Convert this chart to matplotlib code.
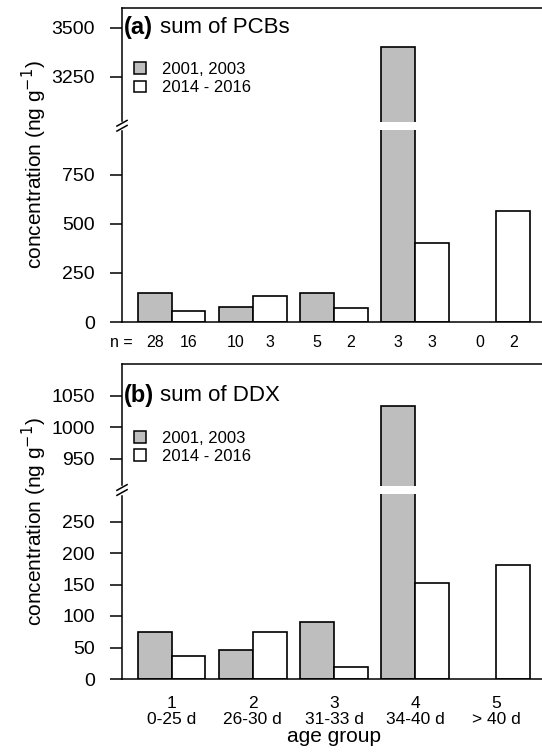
import matplotlib
matplotlib.use("Agg")
import matplotlib.pyplot as plt
from matplotlib.patches import Patch
from matplotlib.transforms import blended_transform_factory
import numpy as np

plt.rcParams["font.family"] = ["Liberation Sans", "DejaVu Sans"]

# ── data ─────────────────────────────────────────────────────────────────────
GROUPS      = ["1\n0-25 d", "2\n26-30 d", "3\n31-33 d", "4\n34-40 d", "5\n> 40 d"]
SERIES      = ["2001, 2003", "2014 - 2016"]

PCB_OLD     = [147, 76, 147, 3400, np.nan]
PCB_NEW     = [57, 132, 71, 402, 565]
PCB_N_OLD   = [28, 10, 5, 3, 0]
PCB_N_NEW   = [16, 3, 2, 3, 2]
PCB_GAP     = (1000, 3000)
PCB_TICKS   = [0, 250, 500, 750, 3250, 3500]
PCB_YMAX    = 3600

DDX_OLD     = [75, 46, 91, 1034, np.nan]
DDX_NEW     = [36, 74, 19, 153, 181]
DDX_GAP     = (300, 900)
DDX_TICKS   = [0, 50, 100, 150, 200, 250, 950, 1000, 1050]
DDX_YMAX    = 1100

C_OLD = "#bebebe"
C_NEW = "white"


def squash(v, gap):
    """values above the gap are shifted down (like plotrix gap.barplot)"""
    v = np.asarray(v, dtype=float)
    return np.where(v >= gap[1], v - (gap[1] - gap[0]), v)


W, H = 542, 753
fig = plt.figure(figsize=(W / 100, H / 100), dpi=100)

ax_a = fig.add_axes([122 / W, 1 - 322 / H, 424 / W, 314 / H])
ax_b = fig.add_axes([122 / W, 1 - 679 / H, 424 / W, 315 / H])

PITCH = 2.4
x = np.arange(len(GROUPS)) * PITCH
span = x[-1] + 2
pad = 0.04 * span


def panel(ax, old, new, gap, ticks, ymax, tag, title):
    top = float(squash(ymax, gap))
    ax.bar(x + 0.5, squash(old, gap), 1, color=C_OLD, edgecolor="black", linewidth=1.2, zorder=2)
    ax.bar(x + 1.5, squash(new, gap), 1, color=C_NEW, edgecolor="black", linewidth=1.2, zorder=2)

    # white band across bars that pass the gap
    band = 0.0125 * top
    for xi, v in zip(x, old):
        if v >= gap[1]:
            ax.bar(xi + 0.5, 2 * band, 1.08, bottom=gap[0] - band, color="white",
                   linewidth=0, zorder=3)

    ax.set_xlim(-pad, span + pad)
    ax.set_ylim(0, top)
    ax.set_yticks(squash(ticks, gap))
    ax.set_yticklabels([str(t) for t in ticks])
    ax.tick_params(axis="y", direction="out", length=8.6, width=1.1, pad=11, labelsize=14)
    for s in ax.spines.values():
        s.set_linewidth(1.1)
    ax.spines["right"].set_visible(False)

    # axis break marks
    tr = blended_transform_factory(ax.transAxes, ax.transData)
    sep = 0.008 * top
    ax.plot([0, 0], [gap[0] - sep, gap[0] + sep], color="white", lw=2.5,
            transform=tr, clip_on=False, zorder=5)
    dy = 0.009 * top
    for off in (-sep, sep):
        ax.plot([-0.012, 0.012], [gap[0] + off - dy, gap[0] + off + dy],
                color="black", lw=1.1, transform=tr, clip_on=False, zorder=6)

    ax.set_ylabel("concentration (ng g$^{-1}$)", fontsize=15)
    ax.yaxis.set_label_coords(-0.173, 0.5)
    ytitle = float(squash(ticks[-1], gap))
    ax.text(0.004, ytitle, tag, transform=tr, fontsize=17, fontweight="bold",
            ha="left", va="center")
    ax.text(0.09, ytitle, title, transform=tr, fontsize=16, ha="left", va="center")


panel(ax_a, PCB_OLD, PCB_NEW, PCB_GAP, PCB_TICKS, PCB_YMAX, "(a)", "sum of PCBs")
panel(ax_b, DDX_OLD, DDX_NEW, DDX_GAP, DDX_TICKS, DDX_YMAX, "(b)", "sum of DDX")

handles = [Patch(facecolor=C_OLD, edgecolor="black", linewidth=1.1),
           Patch(facecolor=C_NEW, edgecolor="black", linewidth=1.1)]
for ax, yc in ((ax_a, 0.775), (ax_b, 0.735)):
    ax.legend(handles, SERIES, loc="center left", bbox_to_anchor=(0.028, yc),
              frameon=False, fontsize=12, handlelength=0.7, handleheight=0.7,
              handletextpad=1.0, labelspacing=0.2, borderpad=0, borderaxespad=0)

# n = row under panel (a)
ax_a.set_xticks([])
tr_a = blended_transform_factory(ax_a.transData, ax_a.transAxes)
ax_a.text(-0.14, -0.065, "n =", transform=tr_a, ha="right", va="center", fontsize=11.5)
for xi, no, nn in zip(x, PCB_N_OLD, PCB_N_NEW):
    ax_a.text(xi + 0.5, -0.065, str(no), transform=tr_a, ha="center", va="center", fontsize=11.5)
    ax_a.text(xi + 1.5, -0.065, str(nn), transform=tr_a, ha="center", va="center", fontsize=11.5)

ax_b.set_xticks(x + 1)
ax_b.set_xticklabels(GROUPS, fontsize=12.5, linespacing=1.1)
ax_b.tick_params(axis="x", length=0, pad=12)
ax_b.set_xlabel("age group", fontsize=15, labelpad=0)

fig.savefig("out.png", dpi=100)
